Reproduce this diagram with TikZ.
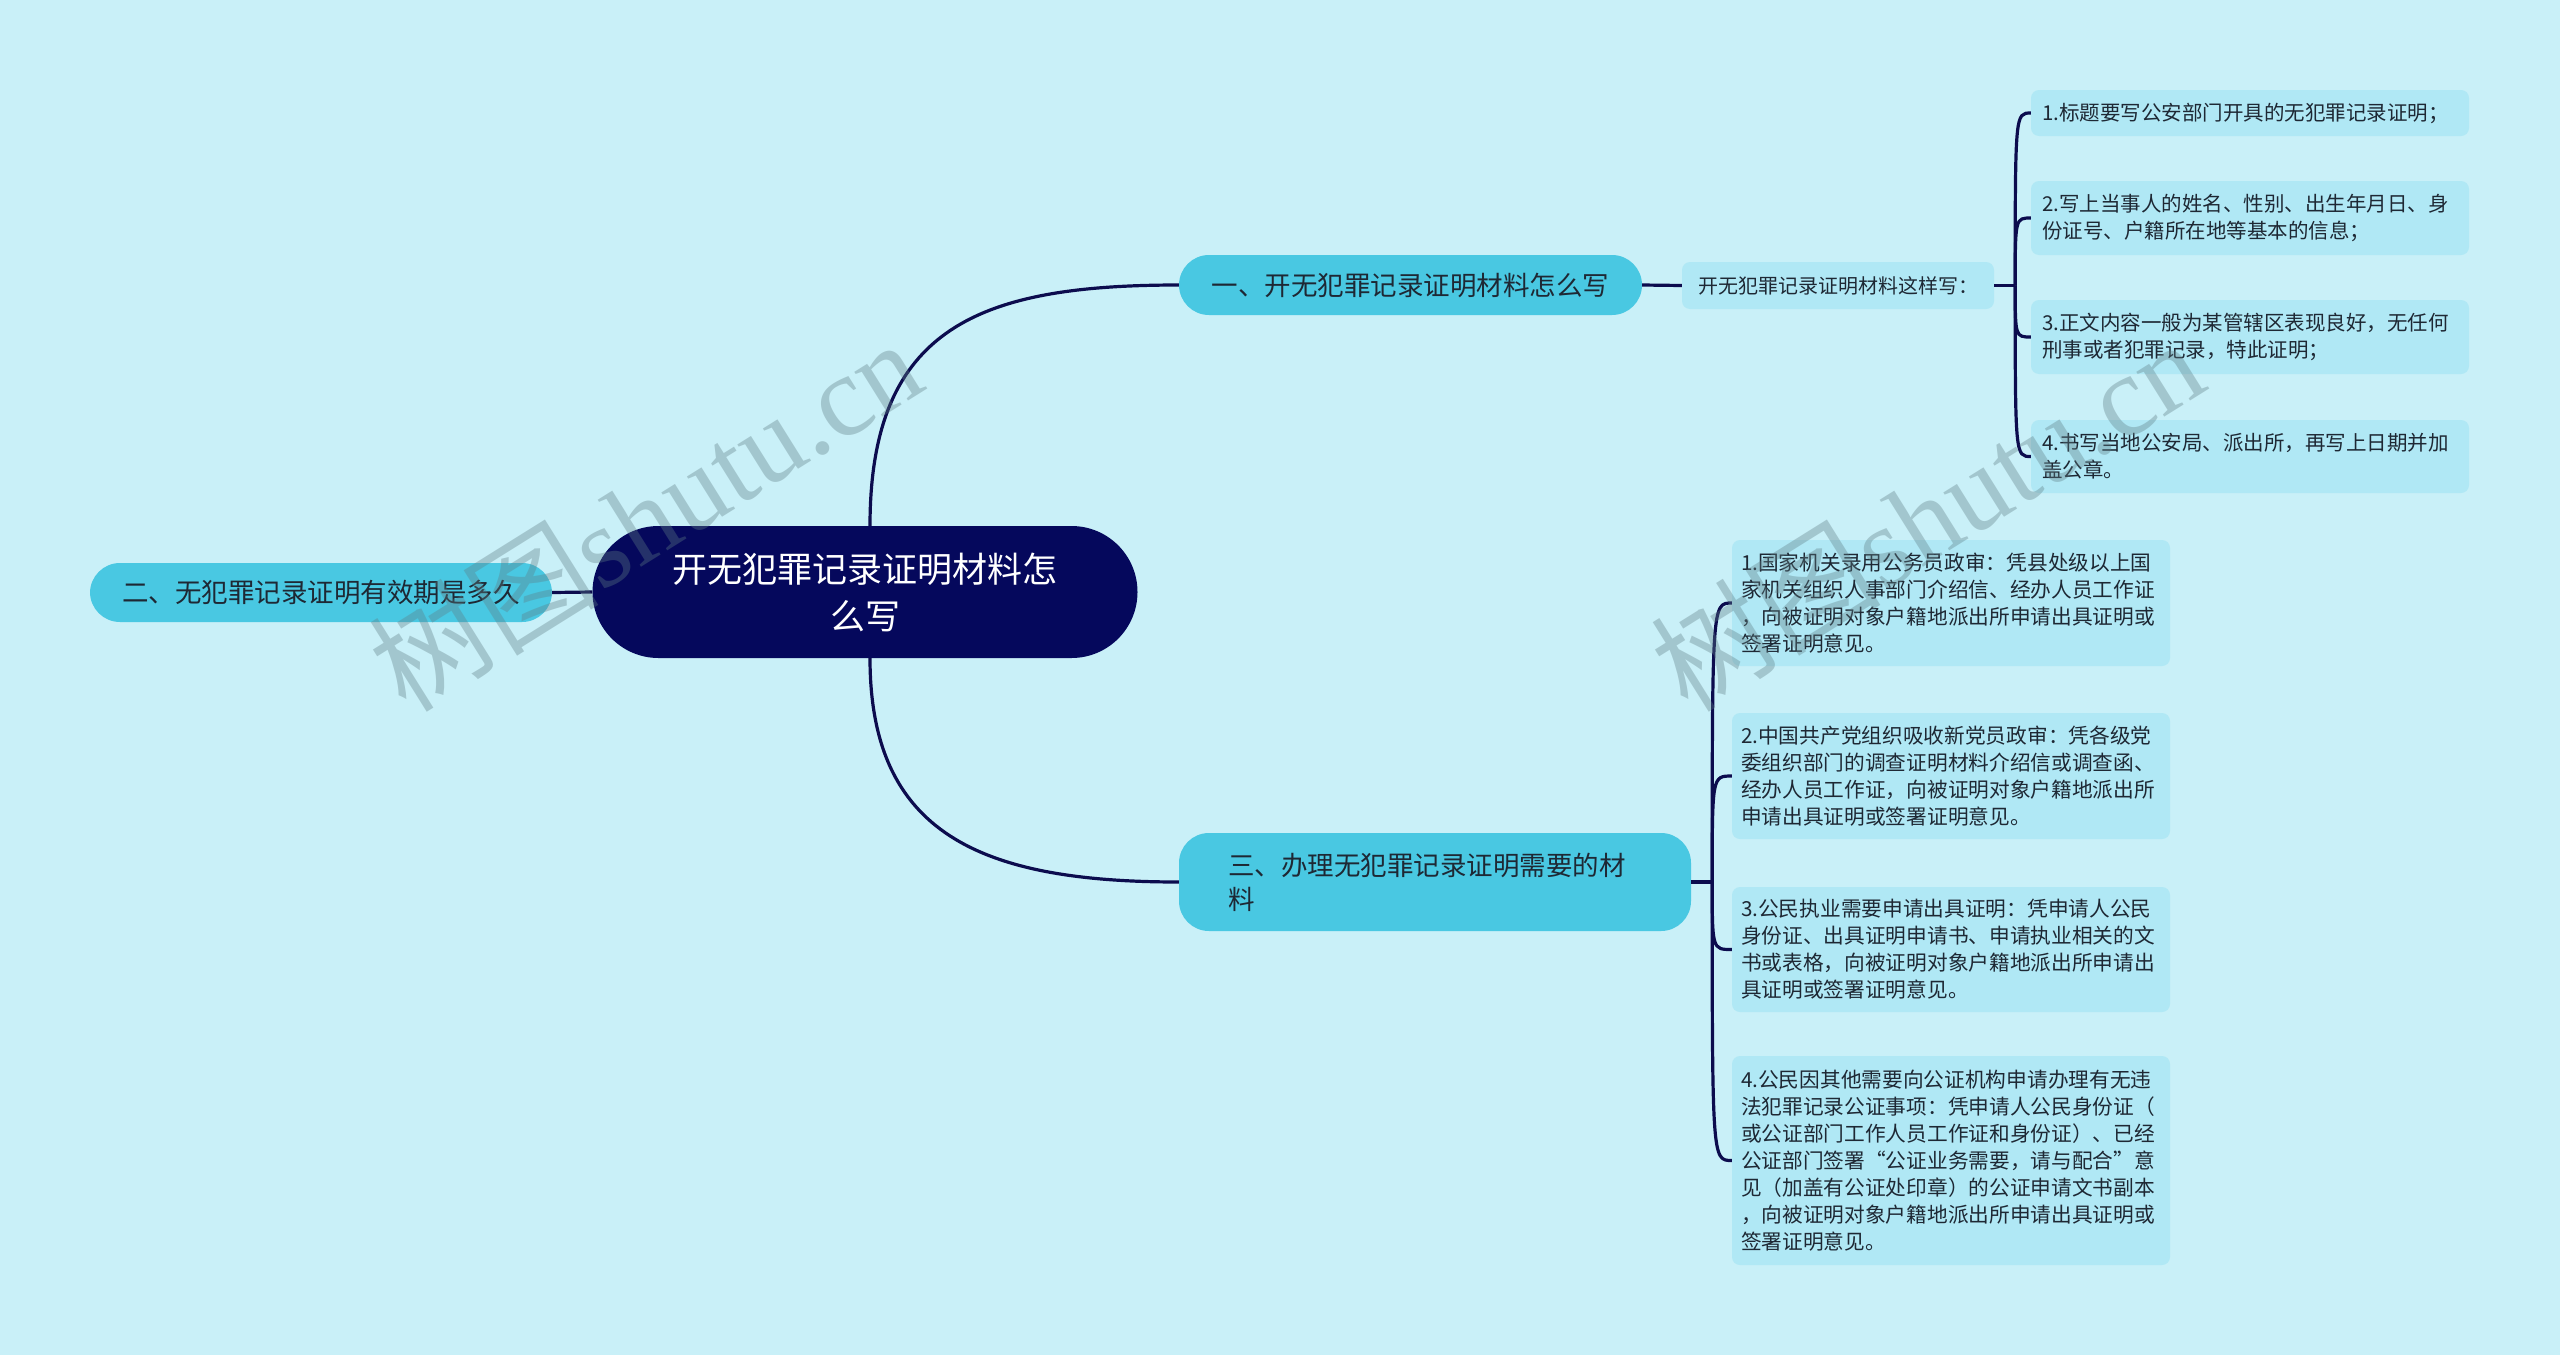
\documentclass[tikz,border=0pt]{standalone}
\usepackage{fontspec}
\setmainfont{Noto Sans CJK SC}
\newfontfamily\wmserif{Liberation Serif}
\usetikzlibrary{calc}
\definecolor{bgc}{RGB}{201,240,248}
\definecolor{brc}{RGB}{73,200,226}
\definecolor{leafc}{RGB}{176,232,245}
\definecolor{rootc}{RGB}{5,8,92}
\definecolor{linec}{RGB}{12,12,78}
\definecolor{txtc}{RGB}{30,40,52}
\definecolor{wmc}{RGB}{95,125,132}
\begin{document}
\begin{tikzpicture}[x=1pt,y=-1pt,
  rootbox/.style={fill=rootc,text=white,rounded corners=66pt,minimum width=545pt,minimum height=132pt,align=center,inner sep=0pt,font=\fontsize{35}{47}\selectfont},
  branchbox/.style={fill=brc,text=txtc,rounded corners=30pt,minimum height=60pt,inner sep=0pt,font=\fontsize{26.5}{34}\selectfont},
  subbox/.style={fill=leafc,text=txtc,rounded corners=8pt,minimum width=312pt,minimum height=47pt,inner sep=0pt,font=\fontsize{20}{26}\selectfont},
  leafA/.style={fill=leafc,text=txtc,rounded corners=8pt,text width=416pt,inner xsep=11pt,inner ysep=0pt,align=left,font=\fontsize{20.5}{26.7}\selectfont},
  leafB/.style={fill=leafc,text=txtc,rounded corners=8pt,text width=420pt,inner xsep=9pt,inner ysep=0pt,align=left,font=\fontsize{20.7}{27}\selectfont},
  conn/.style={draw=linec,line width=3.2pt},
  wm/.style={text=wmc,text opacity=0.36,font=\fontsize{115}{115}\selectfont,inner sep=0pt}
]
\useasboundingbox (0,0) rectangle (2560,1355);
\fill[bgc] (0,0) rectangle (2560,1355);

% nodes
\node[rootbox] (c) at (865,592) {开无犯罪记录证明材料怎\\么写};
\node[branchbox,minimum width=463pt] (b1) at (1410.5,285) {一、开无犯罪记录证明材料怎么写};
\node[branchbox,minimum width=462pt,minimum height=59pt] (b2) at (321,592.5) {二、无犯罪记录证明有效期是多久};
\node[branchbox,minimum height=98pt,text width=414pt,inner xsep=49pt,align=left] (b3) at (1435,882) {三、办理无犯罪记录证明需要的材\\料};
\node[subbox] (s1) at (1838,285.5) {开无犯罪记录证明材料这样写：};

\node[leafA,minimum height=46pt] (l11) at (2250,113) {1.标题要写公安部门开具的无犯罪记录证明；};
\node[leafA,minimum height=74pt] (l12) at (2250,218) {2.写上当事人的姓名、性别、出生年月日、身\\份证号、户籍所在地等基本的信息；};
\node[leafA,minimum height=74pt] (l13) at (2250,337) {3.正文内容一般为某管辖区表现良好，无任何\\刑事或者犯罪记录，特此证明；};
\node[leafA,minimum height=73pt] (l14) at (2250,456.5) {4.书写当地公安局、派出所，再写上日期并加\\盖公章。};

\node[leafB,minimum height=126pt] (l31) at (1951,603) {1.国家机关录用公务员政审：凭县处级以上国\\家机关组织人事部门介绍信、经办人员工作证\\，向被证明对象户籍地派出所申请出具证明或\\签署证明意见。};
\node[leafB,minimum height=126pt] (l32) at (1951,776) {2.中国共产党组织吸收新党员政审：凭各级党\\委组织部门的调查证明材料介绍信或调查函、\\经办人员工作证，向被证明对象户籍地派出所\\申请出具证明或签署证明意见。};
\node[leafB,minimum height=125pt] (l33) at (1951,949.5) {3.公民执业需要申请出具证明：凭申请人公民\\身份证、出具证明申请书、申请执业相关的文\\书或表格，向被证明对象户籍地派出所申请出\\具证明或签署证明意见。};
\node[leafB,minimum height=209pt] (l34) at (1951,1160.5) {4.公民因其他需要向公证机构申请办理有无违\\法犯罪记录公证事项：凭申请人公民身份证（\\或公证部门工作人员工作证和身份证）、已经\\公证部门签署“公证业务需要，请与配合”意\\见（加盖有公证处印章）的公证申请文书副本\\，向被证明对象户籍地派出所申请出具证明或\\签署证明意见。};

% connectors
\draw[conn] ([xshift=5pt]c.north) .. controls +(0,-199) and +(-199,0) .. (b1.west);
\draw[conn] ([xshift=5pt]c.south) .. controls +(0,175) and +(-199,0) .. (b3.west);
\draw[conn] (c.west) -- (b2.east);
\draw[conn] (b1.east) -- (s1.west);

\coordinate (j1) at ($(s1.east)+(21,0)$);
\draw[conn] (s1.east) -- (j1);
\foreach \n in {l11,l12,l13,l14}
  \draw[conn] (j1) .. controls (j1 |- \n.west) .. (\n.west);

\coordinate (j3) at ($(b3.east)+(21,0)$);
\draw[conn] (b3.east) -- (j3);
\foreach \n in {l31,l32,l33,l34}
  \draw[conn] (j3) .. controls (j3 |- \n.west) .. (\n.west);

% watermarks
\node[wm,rotate=32] (w1) at (645,514) {树图{\wmserif shutu.cn}};
\node[wm,rotate=32] (w2) at (1927,514) {树图{\wmserif shutu.cn}};
\end{tikzpicture}
\end{document}
